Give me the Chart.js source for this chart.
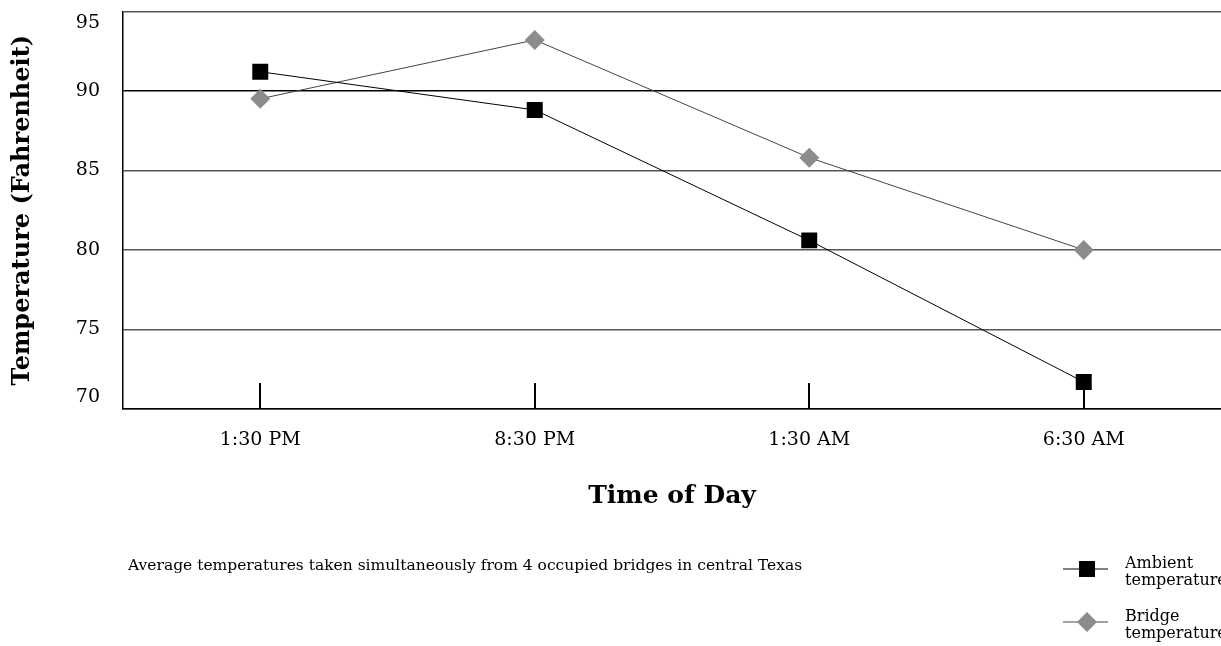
<!DOCTYPE html>
<html>
<head>
<meta charset="utf-8">
<script src="https://cdn.jsdelivr.net/npm/chart.js@4"></script>
<style>
  html, body { margin: 0; padding: 0; background: #fff; }
  #wrap { width: 1221px; height: 646px; }
</style>
</head>
<body>
<div id="wrap"><canvas id="lineChart" width="1221" height="646"></canvas></div>
<script>
var times = ['1:30 PM', '8:30 PM', '1:30 AM', '6:30 AM'];
var ambient = [91.2, 88.8, 80.6, 71.7];
var bridge = [89.5, 93.2, 85.8, 80.0];
var yTicks = [70, 75, 80, 85, 90, 95];

var serif = "'DejaVu Serif', 'Liberation Serif', serif";

// tick marks, y labels, caption and legend
var decor = {
    id: 'decor',
    afterLayout: function (chart) {
        // let the x axis run to the right edge of the canvas
        var xs = chart.scales.x;
        chart.chartArea.right = chart.width;
        chart.chartArea.width = chart.width - chart.chartArea.left;
        xs.left = chart.chartArea.left;
        xs.right = chart.width;
        xs.width = xs.right - xs.left;
        xs.configure();
    },
    beforeDatasetsDraw: function (chart) {
        var ctx = chart.ctx, xs = chart.scales.x, area = chart.chartArea;
        ctx.save();
        ctx.strokeStyle = '#000';
        ctx.lineWidth = 2;
        for (var i = 0; i < times.length; i++) {
            var x = Math.round(xs.getPixelForTick(i));
            ctx.beginPath();
            ctx.moveTo(x, area.bottom - 26);
            ctx.lineTo(x, area.bottom);
            ctx.stroke();
        }
        ctx.restore();
    },
    afterDraw: function (chart) {
        var ctx = chart.ctx, ys = chart.scales.y, area = chart.chartArea;
        ctx.save();
        ctx.fillStyle = '#000';
        ctx.font = '19px ' + serif;
        ctx.textAlign = 'right';
        ctx.textBaseline = 'middle';
        yTicks.forEach(function (v) {
            var y = ys.getPixelForValue(v);
            y = Math.min(Math.max(y, area.top + 12), area.bottom - 12);
            ctx.fillText(String(v), 100, y);
        });

        ctx.textAlign = 'left';
        ctx.font = '15.5px ' + serif;
        ctx.fillText('Average temperatures taken simultaneously from 4 occupied bridges in central Texas', 128, 566);

        // legend
        var rows = [
            { ds: 0, y: 569, lines: ['Ambient', 'temperature'] },
            { ds: 1, y: 622, lines: ['Bridge', 'temperature'] }
        ];
        rows.forEach(function (r) {
            var ds = chart.data.datasets[r.ds];
            ctx.strokeStyle = ds.borderColor;
            ctx.lineWidth = 1;
            ctx.beginPath();
            ctx.moveTo(1063, r.y);
            ctx.lineTo(1108, r.y);
            ctx.stroke();
            ctx.fillStyle = ds.pointBackgroundColor;
            ctx.beginPath();
            if (r.ds === 0) {
                ctx.rect(1079, r.y - 8, 16, 16);
            } else {
                ctx.moveTo(1087, r.y - 10);
                ctx.lineTo(1097, r.y);
                ctx.lineTo(1087, r.y + 10);
                ctx.lineTo(1077, r.y);
                ctx.closePath();
            }
            ctx.fill();
            ctx.fillStyle = '#000';
            ctx.font = '16px ' + serif;
            ctx.fillText(r.lines[0], 1125, r.y - 5);
            ctx.fillText(r.lines[1], 1125, r.y + 12);
        });
        ctx.restore();
    }
};

var ctx = document.getElementById('lineChart').getContext('2d');
var myChart = new Chart(ctx, {
    type: 'line',
    data: {
        labels: times,
        datasets: [{
            label: 'Ambient temperature',
            data: ambient,
            borderColor: '#000',
            borderWidth: 1,
            pointStyle: 'rect',
            pointRadius: 11.3,
            pointBackgroundColor: '#000',
            pointBorderColor: '#000',
            pointBorderWidth: 0,
            tension: 0
        }, {
            label: 'Bridge temperature',
            data: bridge,
            borderColor: '#444',
            borderWidth: 1,
            pointStyle: 'rectRot',
            pointRadius: 10,
            pointBackgroundColor: '#8c8c8c',
            pointBorderColor: '#8c8c8c',
            pointBorderWidth: 0,
            tension: 0
        }]
    },
    options: {
        responsive: false,
        animation: false,
        devicePixelRatio: 1,
        layout: { padding: { top: 10, right: 0, bottom: 0, left: 0 } },
        plugins: {
            legend: { display: false },
            tooltip: { enabled: false }
        },
        scales: {
            x: {
                offset: true,
                grid: { display: false, tickLength: 20 },
                border: { color: '#000', width: 1.5 },
                ticks: { color: '#000', font: { family: serif, size: 19 }, padding: 0, maxRotation: 0 },
                title: {
                    display: true,
                    text: 'Time of Day',
                    color: '#000',
                    font: { family: serif, size: 25, weight: 'bold' },
                    padding: { top: 0, bottom: 135 }
                },
                afterFit: function (scale) {
                    scale.height = 237;
                    scale.paddingLeft = 0;
                    scale.paddingRight = 0;
                }
            },
            y: {
                min: 70,
                max: 95,
                ticks: { stepSize: 5, display: false },
                grid: {
                    drawTicks: false,
                    lineWidth: 1.5,
                    color: function (c) { return c.tick && c.tick.value === 90 ? '#000' : '#555'; }
                },
                border: { color: '#000', width: 1.5 },
                title: {
                    display: true,
                    text: 'Temperature (Fahrenheit)',
                    color: '#000',
                    font: { family: serif, size: 24, weight: 'bold' },
                    padding: { top: 8, bottom: 0 }
                },
                afterFit: function (scale) { scale.width = 123; }
            }
        }
    },
    plugins: [decor]
});
</script>
</body>
</html>
